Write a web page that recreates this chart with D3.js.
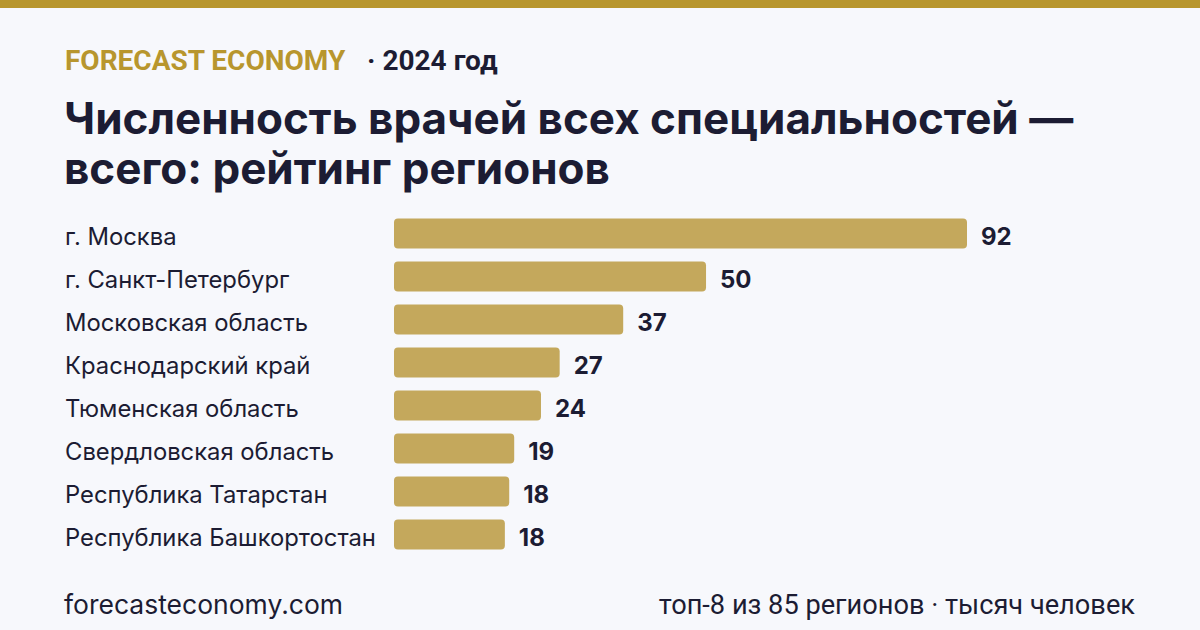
<!DOCTYPE html>
<html>
<head>
  <meta charset="utf-8">
  <title>врачи по регионам</title>
  <script src="https://cdnjs.cloudflare.com/ajax/libs/d3/7.8.5/d3.min.js"></script>
  <style>
    body { margin: 0; background: #f7f8fc; }
  </style>
</head>
<body>
<script>
var width = 1200,
    height = 630;

// данные
var regions = ["г. Москва", "г. Санкт-Петербург", "Московская область", "Краснодарский край",
               "Тюменская область", "Свердловская область", "Республика Татарстан", "Республика Башкортостан"];
var values = [92.0, 50.1, 36.8, 26.6, 23.6, 19.3, 18.5, 17.8];
var valueLabels = ["92", "50", "37", "27", "24", "19", "18", "18"];

var gold = "#b8962e", barColor = "#c4a85c", ink = "#1c1c33";

var svg = d3.select("body").append("svg").attr("width", width).attr("height", height);

svg.append("rect").attr("width", width).attr("height", height).attr("fill", "#f7f8fc");
svg.append("rect").attr("width", width).attr("height", 8).attr("fill", gold);

// шапка
svg.append("text")
   .attr("x", 65).attr("y", 70)
   .attr("font-family", "Roboto").attr("font-weight", 700).attr("font-size", 28)
   .attr("fill", gold)
   .text("FORECAST ECONOMY");
svg.append("text")
   .attr("x", 367).attr("y", 70)
   .attr("font-family", "Roboto").attr("font-weight", 700).attr("font-size", 28)
   .attr("fill", ink)
   .text("· 2024 год");

var title = ["Численность врачей всех специальностей —", "всего: рейтинг регионов"];
svg.selectAll("text.title").data(title).enter().append("text")
   .attr("class", "title")
   .attr("x", 64).attr("y", function(d, i) { return 134 + i * 50; })
   .attr("font-family", "Inter").attr("font-weight", 700).attr("font-size", 44)
   .attr("fill", ink)
   .text(function(d) { return d; });

// шкалы
var x = d3.scaleLinear().domain([0, 92]).range([394, 967]);
var y = d3.scaleBand().domain(regions).range([212, 556]).paddingInner(0.3).paddingOuter(0.15);

var rows = svg.selectAll("g.row").data(regions).enter().append("g").attr("class", "row");

rows.append("text")
   .attr("x", 65)
   .attr("y", function(d) { return y(d) + y.bandwidth() / 2 + 3; })
   .attr("dy", "0.35em")
   .attr("font-family", "Inter").attr("font-size", 23.8)
   .attr("fill", ink)
   .text(function(d) { return d; });

rows.append("rect")
   .attr("x", x(0))
   .attr("y", function(d) { return y(d); })
   .attr("width", function(d, i) { return x(values[i]) - x(0); })
   .attr("height", y.bandwidth())
   .attr("rx", 4)
   .attr("fill", barColor);

rows.append("text")
   .attr("x", function(d, i) { return x(values[i]) + 14; })
   .attr("y", function(d) { return y(d) + y.bandwidth() / 2 + 3; })
   .attr("dy", "0.35em")
   .attr("font-family", "Inter").attr("font-weight", 700).attr("font-size", 24)
   .attr("fill", ink)
   .text(function(d, i) { return valueLabels[i]; });

// подвал
svg.append("text")
   .attr("x", 64).attr("y", 614)
   .attr("font-family", "Inter").attr("font-size", 26.5)
   .attr("fill", ink)
   .text("forecasteconomy.com");
svg.append("text")
   .attr("x", 1135).attr("y", 614)
   .attr("text-anchor", "end")
   .attr("font-family", "Roboto").attr("font-size", 27.2)
   .attr("fill", ink)
   .text("топ-8 из 85 регионов · тысяч человек");
</script>
</body>
</html>
